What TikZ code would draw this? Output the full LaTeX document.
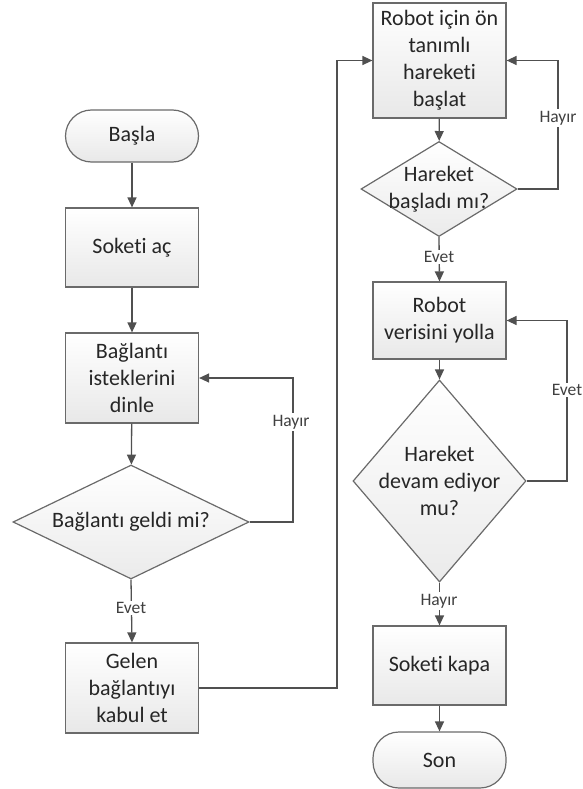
\documentclass[tikz,border=0pt]{standalone}
\usepackage{fontspec}
\setmainfont{Carlito}[Ligatures={NoCommon}]
\usetikzlibrary{shapes.geometric,arrows.meta}
\definecolor{linec}{HTML}{505050}
\definecolor{borderc}{HTML}{6A6A6A}
\tikzset{
  every picture/.style={x=1pt,y=-1pt},
  boxbase/.style={draw=borderc, line width=1.2pt, top color=white, bottom color=black!9, align=center, inner sep=0pt,
    font=\fontsize{22}{27}\selectfont, text=black!85},
  procbox/.style={boxbase, rectangle, minimum width=133pt},
  termbox/.style={boxbase, rectangle, rounded corners=26pt, minimum width=133pt},
  decbox/.style={draw=borderc, line width=1.2pt, top color=white, bottom color=black!8, diamond, inner sep=0pt},
  dectext/.style={align=center, font=\fontsize{22}{27}\selectfont, text=black!85},
  conn/.style={draw=linec, line width=1.3pt, -{Triangle[width=9pt,length=10pt]}},
  lab/.style={fill=white, inner sep=1.5pt, font=\fontsize{17.5}{19}\selectfont, text=black!75}
}
\begin{document}
\begin{tikzpicture}
\useasboundingbox (0,0) rectangle (582,789);
% left column
\node[termbox, minimum height=52pt] (basla) at (132,136) {Başla};
\node[procbox, minimum height=79pt] (soket) at (132,247.5) {Soketi aç};
\node[procbox, minimum height=90pt] (dinle) at (132,378) {Bağlantı\\isteklerini\\dinle};
\node[decbox, minimum width=236pt, minimum height=114pt] (geldi) at (131,522) {};
\node[dectext] (geldit) at (geldi.center) {Bağlantı geldi mi?};
\node[procbox, minimum height=90pt] (gelen) at (132,688) {Gelen\\bağlantıyı\\kabul et};
% right column
\node[procbox, minimum height=115pt] (robot) at (439.5,60.5) {Robot için ön\\tanımlı\\hareketi\\başlat};
\node[decbox, minimum width=156pt, minimum height=95pt] (basladi) at (439,189) {};
\node[dectext] (basladit) at (basladi.center) {Hareket\\başladı mı?};
\node[procbox, minimum height=77pt] (veri) at (439.5,320.5) {Robot\\verisini yolla};
\node[decbox, minimum width=173pt, minimum height=202pt] (devam) at (439.5,481) {};
\node[dectext] (devamt) at (devam.center) {Hareket\\devam ediyor\\mu?};
\node[procbox, minimum height=79pt] (kapa) at (439.5,665.5) {Soketi kapa};
\node[termbox, minimum height=56pt] (son) at (439.5,760) {Son};
% corner coordinates
\coordinate (c1) at (293,522);
\coordinate (c2) at (337,688);
\coordinate (c3) at (558,189);
\coordinate (c4) at (567,481);
% connectors
\draw[conn] (basla) -- (soket);
\draw[conn] (soket) -- (dinle);
\draw[conn] (dinle) -- (geldi);
\draw[conn] (geldi.east) -- (c1) |- (dinle.east);
\draw[conn] (geldi.south) -- (gelen.north);
\draw[conn] (gelen.east) -- (c2) |- (robot.west);
\draw[conn] (robot) -- (basladi);
\draw[conn] (basladi.east) -- (c3) |- (robot.east);
\draw[conn] (basladi.south) -- (veri.north);
\draw[conn] (veri) -- (devam);
\draw[conn] (devam.east) -- (c4) |- (veri.east);
\draw[conn] (devam.south) -- (kapa.north);
\draw[conn] (kapa) -- (son);
% labels
\node[lab] (l1) at (291,422) {Hayır};
\node[lab] (l2) at (131,608) {Evet};
\node[lab] (l3) at (558,118) {Hayır};
\node[lab] (l4) at (439,257) {Evet};
\node[lab] (l5) at (567,390) {Evet};
\node[lab] (l6) at (439,601) {Hayır};
\end{tikzpicture}
\end{document}
